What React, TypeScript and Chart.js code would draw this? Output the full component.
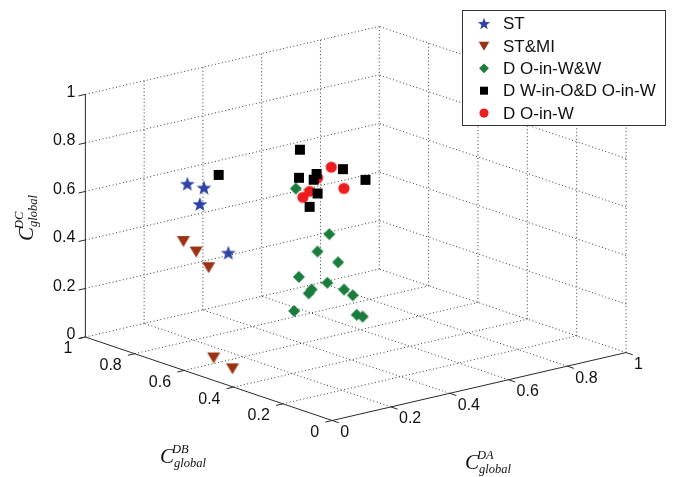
import { useEffect, useRef } from "react";
import { Chart, registerables } from "chart.js";

Chart.register(...registerables);

const W = 685;
const H = 477;

// Series names, shown in the legend
const seriesNames = ["ST", "ST&MI", "D O-in-W&W", "D W-in-O&D O-in-W", "D O-in-W"];

// ST
const stDA = [0.1, 0.15, 0.12, 0.2];
const stDB = [0.706, 0.698, 0.679, 0.659];
const stDC = [0.705, 0.678, 0.625, 0.409];

// ST&MI
const stmiDA = [0.08, 0.12, 0.15, 0.13, 0.11];
const stmiDB = [0.698, 0.694, 0.679, 0.635, 0.535];
const stmiDC = [0.477, 0.424, 0.356, 0.005, 0.0];

// D O-in-W&W
const owwDA = [0.45, 0.5, 0.5, 0.55, 0.45, 0.5, 0.45, 0.45, 0.55, 0.6, 0.45, 0.6, 0.6];
const owwDB = [0.683, 0.607, 0.655, 0.631, 0.671, 0.615, 0.631, 0.619, 0.607, 0.631, 0.69, 0.615, 0.591];
const owwDC = [0.595, 0.419, 0.331, 0.281, 0.235, 0.216, 0.181, 0.201, 0.177, 0.131, 0.088, 0.056, 0.057];

// D W-in-O & D O-in-W
const wooDA = [0.2, 0.5, 0.5, 0.55, 0.55, 0.6, 0.65, 0.55, 0.5];
const wooDB = [0.698, 0.726, 0.73, 0.718, 0.73, 0.671, 0.639, 0.714, 0.687];
const wooDC = [0.716, 0.726, 0.609, 0.615, 0.587, 0.637, 0.59, 0.536, 0.504];

// D O-in-W
const owDA = [0.6, 0.55, 0.5, 0.5, 0.6];
const owDB = [0.718, 0.714, 0.687, 0.714, 0.667];
const owDC = [0.629, 0.6, 0.568, 0.534, 0.559];

// Axis ticks (shared by all three axes)
const tickValues = [0, 0.2, 0.4, 0.6, 0.8, 1];
const tickLabels = ["0", "0.2", "0.4", "0.6", "0.8", "1"];

// Oblique view of the unit cube onto the plane of the page
const VIEW = {
  ox: 332,
  oy: 426,
  da: { x: 300, y: -70 },
  db: { x: -252, y: -86 },
  dc: { x: 0, y: -250 },
};

function project(a: number, b: number, c: number) {
  return {
    x: VIEW.ox + a * VIEW.da.x + b * VIEW.db.x + c * VIEW.dc.x,
    y: VIEW.oy + a * VIEW.da.y + b * VIEW.db.y + c * VIEW.dc.y,
  };
}

function toPoints(da: number[], db: number[], dc: number[]) {
  return da.map((a, i) => project(a, db[i], dc[i]));
}

type Kind = "star" | "tri" | "diamond" | "square" | "circle";

function traceMarker(ctx: CanvasRenderingContext2D, kind: Kind, x: number, y: number, s: number) {
  ctx.beginPath();
  if (kind === "star") {
    const R = 7.8 * s;
    const r = R * 0.42;
    for (let i = 0; i < 10; i++) {
      const ang = -Math.PI / 2 + (i * Math.PI) / 5;
      const rad = i % 2 === 0 ? R : r;
      const px = x + Math.cos(ang) * rad;
      const py = y + Math.sin(ang) * rad + 0.8 * s;
      if (i === 0) ctx.moveTo(px, py);
      else ctx.lineTo(px, py);
    }
  } else if (kind === "tri") {
    ctx.moveTo(x - 6.5 * s, y - 5 * s);
    ctx.lineTo(x + 6.5 * s, y - 5 * s);
    ctx.lineTo(x, y + 6 * s);
  } else if (kind === "diamond") {
    const R = 6 * s;
    ctx.moveTo(x, y - R);
    ctx.lineTo(x + R, y);
    ctx.lineTo(x, y + R);
    ctx.lineTo(x - R, y);
  } else if (kind === "square") {
    const h = 5 * s;
    ctx.rect(x - h, y - h, 2 * h, 2 * h);
  } else {
    ctx.arc(x, y, 5.6 * s, 0, Math.PI * 2);
  }
  ctx.closePath();
  ctx.fill();
}

function markerImage(kind: Kind, color: string) {
  const c = document.createElement("canvas");
  c.width = 20;
  c.height = 20;
  const ctx = c.getContext("2d")!;
  ctx.fillStyle = color;
  traceMarker(ctx, kind, 10, 10, 1);
  return c;
}

const seriesKinds: Kind[] = ["star", "tri", "diamond", "square", "circle"];
const seriesColors = ["#2f42a8", "#9a3314", "#1b7d3c", "#000000", "#ec1c1f"];

function cLabel(ctx: CanvasRenderingContext2D, x: number, y: number, sup: string) {
  ctx.textAlign = "left";
  ctx.textBaseline = "alphabetic";
  ctx.font = 'italic 21px "Liberation Serif", "Times New Roman", serif';
  ctx.fillText("C", x, y);
  ctx.font = 'italic 12.5px "Liberation Serif", "Times New Roman", serif';
  ctx.fillText(sup, x + 12, y - 10);
  ctx.fillText("global", x + 14, y + 4);
}

const frame3d = {
  id: "frame3d",
  beforeDatasetsDraw(chart: any) {
    const ctx: CanvasRenderingContext2D = chart.ctx;
    const xs = chart.scales.x;
    const ys = chart.scales.y;
    const P = (a: number, b: number, c: number): [number, number] => {
      const p = project(a, b, c);
      return [xs.getPixelForValue(p.x), ys.getPixelForValue(p.y)];
    };
    const seg = (p: [number, number], q: [number, number]) => {
      ctx.beginPath();
      ctx.moveTo(p[0], p[1]);
      ctx.lineTo(q[0], q[1]);
      ctx.stroke();
    };
    ctx.save();

    // dotted grid on the floor and the two back walls
    ctx.strokeStyle = "#3a3a3a";
    ctx.lineWidth = 1;
    ctx.setLineDash([1, 2.5]);
    for (const t of tickValues) {
      if (t > 0) {
        seg(P(t, 0, 0), P(t, 1, 0));
        seg(P(0, t, 0), P(1, t, 0));
        seg(P(t, 1, 0), P(t, 1, 1));
        seg(P(0, 1, t), P(1, 1, t));
        seg(P(1, 0, t), P(1, 1, t));
      }
      if (t < 1) seg(P(1, t, 0), P(1, t, 1));
    }

    // solid axis lines
    ctx.setLineDash([]);
    ctx.strokeStyle = "#2a2a2a";
    seg(P(0, 1, 0), P(0, 1, 1));
    seg(P(0, 1, 0), P(0, 0, 0));
    seg(P(0, 0, 0), P(1, 0, 0));

    const unit = (p: [number, number], q: [number, number]) => {
      const dx = q[0] - p[0];
      const dy = q[1] - p[1];
      const l = Math.hypot(dx, dy);
      return [dx / l, dy / l];
    };
    const TL = 7;
    ctx.fillStyle = "#111";
    ctx.font = '16px "Liberation Sans", Arial, sans-serif';

    tickValues.forEach((t, i) => {
      // vertical axis
      const pz = P(0, 1, t);
      const dz = unit(P(1, 1, t), pz);
      seg(pz, [pz[0] + dz[0] * TL, pz[1] + dz[1] * TL]);
      ctx.textAlign = "right";
      ctx.textBaseline = "middle";
      ctx.fillText(tickLabels[i], pz[0] - 10, pz[1] - 2);

      // DB axis
      const pb = P(0, t, 0);
      const db = unit(P(1, t, 0), pb);
      seg(pb, [pb[0] + db[0] * TL, pb[1] + db[1] * TL]);
      ctx.textAlign = "right";
      ctx.fillText(tickLabels[i], pb[0] - 13, pb[1] + 12);

      // DA axis
      const pa = P(t, 0, 0);
      const da = unit(P(t, 1, 0), pa);
      seg(pa, [pa[0] + da[0] * TL, pa[1] + da[1] * TL]);
      ctx.textAlign = "left";
      ctx.fillText(tickLabels[i], pa[0] + 8, pa[1] + 12);
    });

    // axis titles
    ctx.fillStyle = "#111";
    cLabel(ctx, 160, 463, "DB");
    cLabel(ctx, 465, 469, "DA");
    ctx.save();
    ctx.translate(33, 241);
    ctx.rotate(-Math.PI / 2);
    cLabel(ctx, 0, 0, "DC");
    ctx.restore();

    ctx.restore();
  },
  afterDatasetsDraw(chart: any) {
    const ctx: CanvasRenderingContext2D = chart.ctx;
    ctx.save();
    ctx.fillStyle = "#ffffff";
    ctx.fillRect(462.5, 10.5, 203, 115);
    ctx.strokeStyle = "#333";
    ctx.lineWidth = 1;
    ctx.strokeRect(462.5, 10.5, 203, 115);
    ctx.font = '17px "Liberation Sans", Arial, sans-serif';
    ctx.textAlign = "left";
    ctx.textBaseline = "middle";
    chart.data.datasets.forEach((ds: any, i: number) => {
      const y = 23.5 + i * 22.4;
      ctx.fillStyle = seriesColors[i];
      traceMarker(ctx, seriesKinds[i], 484, y, i === 3 ? 0.8 : 0.82);
      ctx.fillStyle = "#111";
      ctx.fillText(ds.label, 503, y + 1);
    });
    ctx.restore();
  },
};

export default function App() {
  const ref = useRef<HTMLCanvasElement | null>(null);

  useEffect(() => {
    document.body.style.margin = "0";
    const canvas = ref.current;
    if (!canvas) return;
    const coords = [
      toPoints(stDA, stDB, stDC),
      toPoints(stmiDA, stmiDB, stmiDC),
      toPoints(owwDA, owwDB, owwDC),
      toPoints(wooDA, wooDB, wooDC),
      toPoints(owDA, owDB, owDC),
    ];
    // lower order is painted later (on top)
    const drawOrder = [5, 4, 3, 1, 2];
    const chart = new Chart(canvas, {
      type: "scatter",
      data: {
        datasets: coords.map((pts, i) => ({
          label: seriesNames[i],
          data: pts,
          order: drawOrder[i],
          pointStyle: markerImage(seriesKinds[i], seriesColors[i]),
          pointRadius: 6,
          backgroundColor: seriesColors[i],
          borderColor: seriesColors[i],
        })),
      },
      options: {
        animation: false,
        responsive: false,
        devicePixelRatio: 1,
        layout: { padding: 0 },
        events: [],
        scales: {
          x: { type: "linear", min: 0, max: W, display: false },
          y: { type: "linear", min: 0, max: H, reverse: true, display: false },
        },
        plugins: {
          legend: { display: false },
          tooltip: { enabled: false },
        },
      },
      plugins: [frame3d],
    });
    return () => chart.destroy();
  }, []);

  return (
    <div style={{ width: W, height: H, background: "#fff" }}>
      <canvas ref={ref} width={W} height={H} style={{ display: "block" }} />
    </div>
  );
}
